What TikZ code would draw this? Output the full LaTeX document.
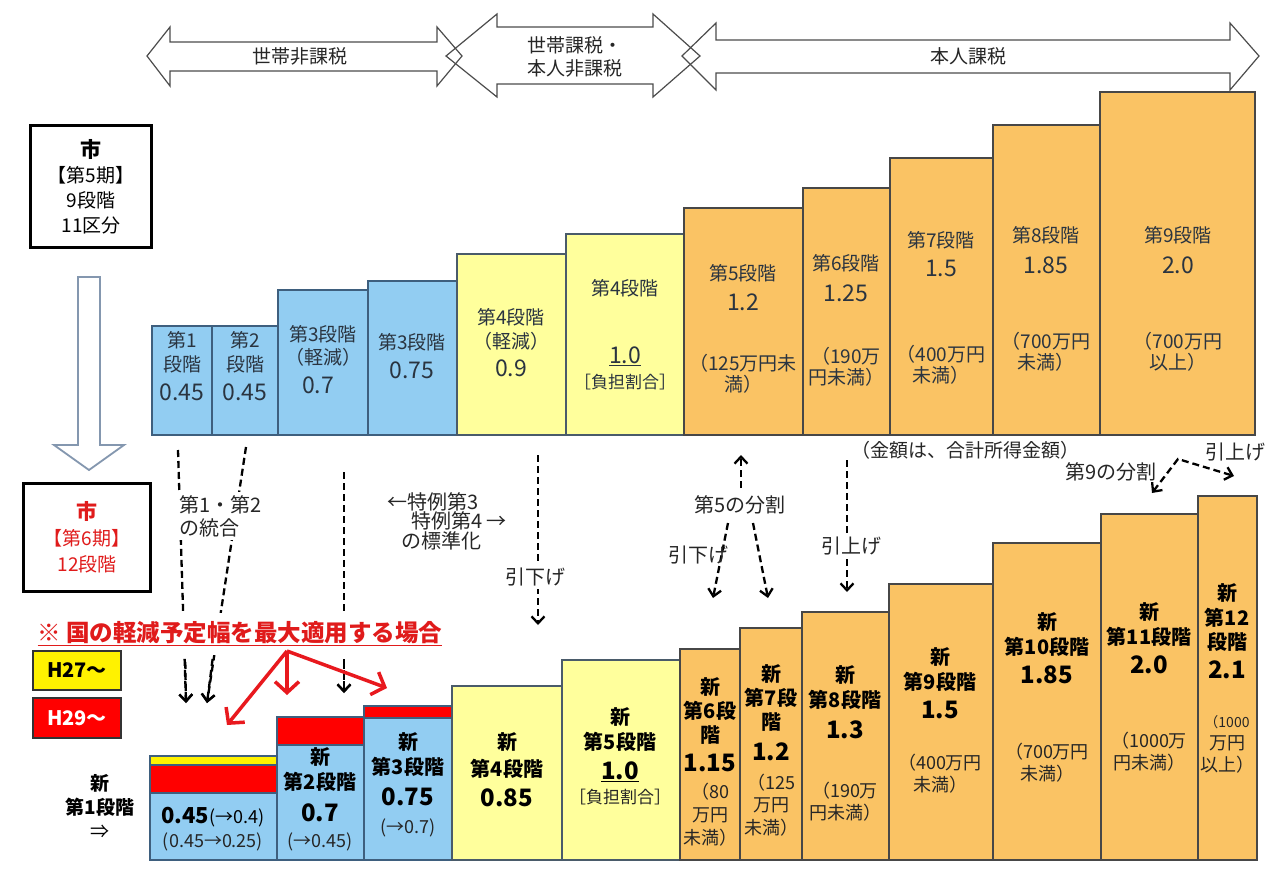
\documentclass[tikz,border=0pt]{standalone}
\usepackage{fontspec}
\setmainfont{Noto Sans CJK JP}
\usetikzlibrary{arrows.meta}
\definecolor{cblue}{HTML}{92CDF2}
\definecolor{cblueB}{HTML}{3E5F7E}
\definecolor{cyel}{HTML}{FFFF9C}
\definecolor{cyelB}{HTML}{4A5B6A}
\definecolor{corg}{HTML}{FAC364}
\definecolor{corgB}{HTML}{474747}
\definecolor{cred}{HTML}{FF0000}
\definecolor{credT}{HTML}{E01B1B}
\definecolor{credA}{HTML}{E8191E}
\definecolor{tx}{HTML}{2A3440}
\definecolor{hollow}{HTML}{8497AF}
\newcommand\fs[2]{\fontsize{#1}{#2}\selectfont}
\newcommand\mkbar[6]{\node[#6,anchor=north west,minimum width={(#3)-(#2)},minimum height={(#5)-(#4)},inner sep=0pt,outer sep=0pt] (#1) at (#2,#4) {};}
\tikzset{
  bluebar/.style={fill=cblue,draw=cblueB,line width=2.5pt},
  yelbar/.style={fill=cyel,draw=cyelB,line width=2.5pt},
  orgbar/.style={fill=corg,draw=corgB,line width=2.5pt},
  redbar/.style={fill=cred,draw=cblueB,line width=2pt},
  ystrip/.style={fill=yellow,draw=cblueB,line width=1.5pt},
  lab/.style={font=\fs{19}{23},text=tx,inner sep=0pt,align=center},
  num/.style={font=\fs{23}{26},text=tx,inner sep=0pt},
  rng/.style={font=\fs{18}{20},text=tx,inner sep=0pt,align=center},
  blab/.style={font=\fs{20}{25}\bfseries,text=black,inner sep=0pt,align=center},
  bnum/.style={font=\fs{24}{26}\bfseries,text=black,inner sep=0pt},
  brng/.style={font=\fs{18}{22},text=black!85,inner sep=0pt,align=center},
  mid/.style={font=\fs{20}{23},text=black!85,inner sep=3pt,fill=white,align=left},
  arrline/.style={draw=black!70,line width=1.2pt,line join=miter},
  arrtxt/.style={font=\fs{19}{23},text=black!85,inner sep=0pt,align=center},
  dconn/.style={draw=black,line width=2.3pt,dash pattern=on 7pt off 4pt,-{Straight Barb[length=7pt,width=13pt]}},
  redarr/.style={draw=credA,line width=3.5pt,-{Straight Barb[length=11pt,width=24pt]}},
  legbox/.style={line width=2pt,draw=black!80},
}
\begin{document}
\begin{tikzpicture}[x=1pt,y=-1pt]
\useasboundingbox (0,0) rectangle (1286,870);
\fill[white] (0,0) rectangle (1286,870);

% top double arrows
\draw[arrline] (147,56) -- (170,27) -- (170,42) -- (437,42) -- (437,27) -- (462,56) -- (437,86) -- (437,71) -- (170,71) -- (170,86) -- cycle;
\draw[arrline] (446,56) -- (497,14) -- (497,27) -- (653,27) -- (653,14) -- (700,56) -- (653,97) -- (653,84) -- (497,84) -- (497,97) -- cycle;
\draw[arrline] (682,56) -- (716,23) -- (716,40) -- (1230,40) -- (1230,23) -- (1259,56) -- (1230,90) -- (1230,73) -- (716,73) -- (716,90) -- cycle;
\node[arrtxt] (a1t) at (300,56) {世帯非課税};
\node[arrtxt] (a2t) at (575,57) {世帯課税・\\本人非課税};
\node[arrtxt] (a3t) at (968,56) {本人課税};

% left boxes
\node[draw=black,line width=3pt,anchor=north west,minimum width=121,minimum height=122,inner sep=0pt] (box1) at (29,124) {};
\node[font=\fs{19}{25},align=center,inner sep=0pt] (box1t) at (box1.center) {{\fs{21}{25}\bfseries 市}\\【第5期】\\9段階\\11区分};
\draw[draw=hollow,line width=1.8pt,fill=white] (78,277) -- (100,277) -- (100,445) -- (124,445) -- (89,470) -- (54,445) -- (78,445) -- cycle;
\node[draw=black,line width=3pt,anchor=north west,minimum width=127,minimum height=108,inner sep=0pt] (box2) at (22,482) {};
\node[font=\fs{19}{26},align=center,inner sep=0pt,text=credT] (box2t) at (box2.center) {{\fs{21}{26}\bfseries 市}\\【第6期】\\12段階};

% top bars
\mkbar{o1}{152}{212}{326}{435}{bluebar}
\mkbar{o2}{212}{278}{326}{435}{bluebar}
\mkbar{o3}{278}{368}{290}{435}{bluebar}
\mkbar{o4}{368}{457}{281}{435}{bluebar}
\mkbar{o5}{457}{566}{254}{435}{yelbar}
\mkbar{o6}{566}{684}{234}{435}{yelbar}
\mkbar{o7}{684}{803}{208}{435}{orgbar}
\mkbar{o8}{803}{890}{188}{435}{orgbar}
\mkbar{o9}{890}{993}{158}{435}{orgbar}
\mkbar{o10}{993}{1100}{125}{435}{orgbar}
\mkbar{o11}{1100}{1255}{92}{435}{orgbar}

\node[lab,font=\fs{19}{24}] (o1l) at (182,352) {第1\\段階};
\node[num] (o1n) at (182,392) {0.45};
\node[lab,font=\fs{19}{24}] (o2l) at (245,352) {第2\\段階};
\node[num] (o2n) at (245,392) {0.45};
\node[lab] (o3l) at (323,346) {第3段階\\（軽減）};
\node[num] (o3n) at (318,385) {0.7};
\node[lab] (o4l) at (412,342) {第3段階};
\node[num] (o4n) at (412,370) {0.75};
\node[lab,font=\fs{19}{24}] (o5l) at (511,329) {第4段階\\（軽減）};
\node[num] (o5n) at (511,368) {0.9};
\node[lab] (o6l) at (625,288) {第4段階};
\node[num] (o6n) at (625,356) {\underline{1.0}};
\node[lab,font=\fs{17}{20}] (o6r) at (625,382) {［負担割合］};
\node[lab] (o7l) at (743,273) {第5段階};
\node[num] (o7n) at (743,302) {1.2};
\node[rng,font=\fs{19}{21}] (o7r) at (743,374) {（125万円未\\満）};
\node[lab] (o8l) at (846,263) {第6段階};
\node[num] (o8n) at (846,293) {1.25};
\node[rng,font=\fs{19}{21}] (o8r) at (846,367) {（190万\\円未満）};
\node[lab] (o9l) at (941,240) {第7段階};
\node[num] (o9n) at (941,268) {1.5};
\node[rng,font=\fs{19}{21}] (o9r) at (941,365) {（400万円\\未満）};
\node[lab] (o10l) at (1046,235) {第8段階};
\node[num] (o10n) at (1046,265) {1.85};
\node[rng,font=\fs{19}{21}] (o10r) at (1046,352) {（700万円\\未満）};
\node[lab] (o11l) at (1178,235) {第9段階};
\node[num] (o11n) at (1178,265) {2.0};
\node[rng,font=\fs{19}{21}] (o11r) at (1178,352) {（700万円\\以上）};

\node[arrtxt] (note) at (965,450) {（金額は、合計所得金額）};

% bottom bars
\mkbar{n1}{150}{277}{793}{860}{bluebar}
\mkbar{n1r}{150}{277}{765}{793}{redbar}
\mkbar{n1y}{150}{277}{756}{765}{ystrip}
\mkbar{n2}{277}{364}{745}{860}{bluebar}
\mkbar{n2r}{277}{364}{717}{745}{redbar}
\mkbar{n3}{364}{452}{718}{860}{bluebar}
\mkbar{n3r}{364}{452}{706}{718}{redbar}
\mkbar{n4}{452}{562}{686}{860}{yelbar}
\mkbar{n5}{562}{680}{660}{860}{yelbar}
\mkbar{n6}{680}{740}{649}{860}{orgbar}
\mkbar{n7}{740}{802}{628}{860}{orgbar}
\mkbar{n8}{802}{889}{612}{860}{orgbar}
\mkbar{n9}{889}{993}{584}{860}{orgbar}
\mkbar{n10}{993}{1101}{543}{860}{orgbar}
\mkbar{n11}{1101}{1198}{514}{860}{orgbar}
\mkbar{n12}{1198}{1257}{496}{860}{orgbar}

\node[blab,font=\fs{19}{24}\bfseries] (n1lab) at (100,806) {新\\第1段階\\{\mdseries ⇒}};
\node[inner sep=0pt] (n1n) at (213,817) {{\fs{22}{24}\bfseries 0.45}{\fs{18}{20}(→0.4)}};
\node[brng] (n1r2) at (213,842) {(0.45→0.25)};
\node[blab] (n2l) at (320,770) {新\\第2段階};
\node[bnum] (n2n) at (320,813) {0.7};
\node[brng] (n2r2) at (320,842) {(→0.45)};
\node[blab] (n3l) at (408,755) {新\\第3段階};
\node[bnum] (n3n) at (408,797) {0.75};
\node[brng] (n3r2) at (408,828) {(→0.7)};
\node[blab,font=\fs{20}{27}\bfseries] (n4l) at (507,756) {新\\第4段階};
\node[bnum] (n4n) at (507,798) {0.85};
\node[blab] (n5l) at (620,730) {新\\第5段階};
\node[bnum] (n5n) at (620,772) {\underline{1.0}};
\node[brng,font=\fs{17}{20}] (n5r) at (620,797) {［負担割合］};
\node[blab,font=\fs{20}{24}\bfseries] (n6l) at (710,711) {新\\第6段\\階};
\node[bnum] (n6n) at (710,763) {1.15};
\node[brng,font=\fs{18}{23}] (n6r) at (710,815) {（80\\万円\\未満）};
\node[blab,font=\fs{20}{24}\bfseries] (n7l) at (771,698) {新\\第7段\\階};
\node[bnum] (n7n) at (771,752) {1.2};
\node[brng,font=\fs{18}{22.5}] (n7r) at (771,805) {（125\\万円\\未満）};
\node[blab] (n8l) at (845,688) {新\\第8段階};
\node[bnum] (n8n) at (845,730) {1.3};
\node[brng] (n8r) at (845,802) {（190万\\円未満）};
\node[blab] (n9l) at (940,670) {新\\第9段階};
\node[bnum] (n9n) at (940,710) {1.5};
\node[brng] (n9r) at (940,774) {（400万円\\未満）};
\node[blab] (n10l) at (1047,635) {新\\第10段階};
\node[bnum] (n10n) at (1047,675) {1.85};
\node[brng] (n10r) at (1047,763) {（700万円\\未満）};
\node[blab] (n11l) at (1149,625) {新\\第11段階};
\node[bnum] (n11n) at (1149,665) {2.0};
\node[brng] (n11r) at (1149,752) {（1000万\\円未満）};
\node[blab,font=\fs{20}{24.5}\bfseries] (n12l) at (1227,618) {新\\第12\\段階};
\node[bnum] (n12n) at (1227,670) {2.1};
\node[brng,font=\fs{14}{16}] (n12r1) at (1227,722) {（1000};
\node[brng] (n12r2) at (1227,754) {万円\\以上）};

% dashed connectors
\coordinate (d1s) at (178,450); \coordinate (d1e) at (186,703);
\coordinate (d2s) at (246,447); \coordinate (d2e) at (207,703);
\coordinate (d3s) at (344,472); \coordinate (d3e) at (344,693);
\coordinate (d4s) at (538,455); \coordinate (d4e) at (538,625);
\coordinate (d5s) at (741,488); \coordinate (d5e) at (741,455);
\coordinate (d6s) at (728,523); \coordinate (d6e) at (713,598);
\coordinate (d7s) at (753,523); \coordinate (d7e) at (768,598);
\coordinate (d8s) at (847,460); \coordinate (d8e) at (847,592);
\coordinate (pk) at (1178,459); \coordinate (pkl) at (1152,493); \coordinate (pkr) at (1234,476);
\draw[dconn] (d1s) -- (d1e);
\draw[dconn] (d2s) -- (d2e);
\draw[dconn] (d3s) -- (d3e);
\draw[dconn] (d4s) -- (d4e);
\draw[dconn] (d5s) -- (d5e);
\draw[dconn] (d6s) -- (d6e);
\draw[dconn] (d7s) -- (d7e);
\draw[dconn] (d8s) -- (d8e);
\draw[dconn,{Straight Barb[length=7pt,width=13pt]}-{Straight Barb[length=7pt,width=13pt]}] (pkl) -- (pk) -- (pkr);

% middle labels
\node[mid,anchor=west] (m12) at (176,516) {第1・第2\\の統合};
\node[mid,inner sep=0pt,fill=none] (m34a) at (433,502) {←特例第3};
\node[mid,inner sep=0pt,fill=none] (m34b) at (459,521) {特例第4 →};
\node[mid,inner sep=0pt,fill=none] (m34c) at (441,541) {の標準化};
\node[mid] (m4) at (535,577) {引下げ};
\node[mid,fill=none] (m5) at (740,505) {第5の分割};
\node[mid,fill=none] (m5l) at (698,555) {引下げ};
\node[mid] (m8) at (851,546) {引上げ};
\node[mid,fill=none] (m9) at (1111,472) {第9の分割};
\node[mid,fill=none] (m9r) at (1235,452) {引上げ};

% title
\node[fill=white,inner xsep=2pt,inner ysep=9pt,text=credT,font=\fs{23.5}{26}\bfseries] (title) at (240,634) {\underline{※ 国の軽減予定幅を最大適用する場合}};
\draw[dconn] (d1s) ++(7.3,212) -- (d1e);
\draw[dconn] (d2s) ++(-33.4,212) -- (d2e);
\draw[dconn] (d3s) ++(0,190) -- (d3e);

% legend
\node[legbox,fill=yellow,anchor=north west,minimum width=88,minimum height=39,inner sep=0pt,font=\fs{20}{22}\bfseries] (leg1) at (32,650) {H27～};
\node[legbox,fill=cred,anchor=north west,minimum width=88,minimum height=40,inner sep=0pt,text=white,font=\fs{20}{22}\bfseries] (leg2) at (32,697) {H29～};

% red arrows
\coordinate (ro) at (287,651);
\coordinate (rl) at (227,725); \coordinate (rm) at (287,695); \coordinate (rr) at (387,688);
\draw[redarr] (ro) -- (rl);
\draw[redarr] (ro) -- (rm);
\draw[redarr] (ro) -- (rr);
\end{tikzpicture}
\end{document}
